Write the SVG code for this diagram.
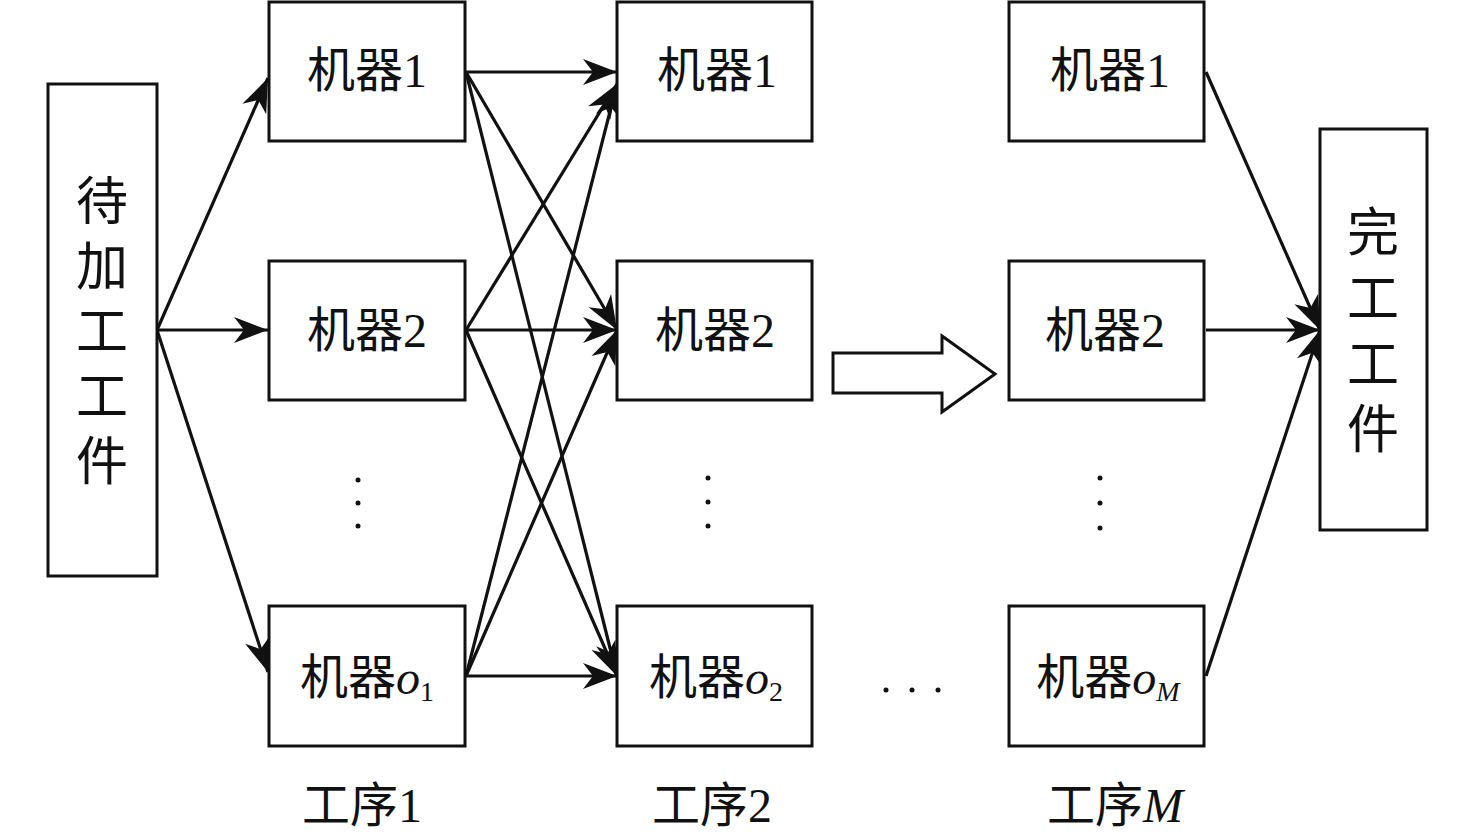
<svg xmlns="http://www.w3.org/2000/svg" width="1476" height="840" viewBox="0 0 1476 840">
<style>
.box{fill:#fff;stroke:#111;stroke-width:3}
.t{font-family:"Liberation Serif","Noto Sans CJK SC",serif;font-size:48px;fill:#111;text-anchor:middle}
.v{font-family:"Liberation Serif","Noto Sans CJK SC",serif;font-size:52px;fill:#111;text-anchor:middle}
.c{stroke:#111;stroke-width:3.2;fill:none;marker-end:url(#ah)}
.dot{fill:#111}
</style>
<defs>
<marker id="ah" viewBox="-36 -15 38 30" refX="0" refY="0" markerWidth="38" markerHeight="30" markerUnits="userSpaceOnUse" orient="auto">
<path d="M0,0 L-34,-13 L-24,0 L-34,13 Z" fill="#111"/>
</marker>
</defs>
<rect width="1476" height="840" fill="#fff"/>
<g id="connectors">
<line class="c" x1="157" y1="330" x2="268" y2="78"/>
<line class="c" x1="157" y1="330" x2="268" y2="330"/>
<line class="c" x1="157" y1="330" x2="268" y2="672"/>
<line class="c" x1="466" y1="72" x2="617" y2="72"/>
<line class="c" x1="466" y1="72" x2="617" y2="330"/>
<line class="c" x1="466" y1="72" x2="617" y2="676"/>
<line class="c" x1="466" y1="330" x2="617" y2="84"/>
<line class="c" x1="466" y1="330" x2="617" y2="330"/>
<line class="c" x1="466" y1="330" x2="617" y2="676"/>
<line class="c" x1="466" y1="676" x2="617" y2="84"/>
<line class="c" x1="466" y1="676" x2="617" y2="330"/>
<line class="c" x1="466" y1="676" x2="617" y2="676"/>
<line class="c" x1="1206" y1="72" x2="1320" y2="330"/>
<line class="c" x1="1206" y1="330" x2="1320" y2="330"/>
<line class="c" x1="1206" y1="676" x2="1320" y2="330"/>
<path d="M833,353 L942,353 L942,336 L995,374 L942,412 L942,393 L833,393 Z" fill="#fff" stroke="#111" stroke-width="3" stroke-linejoin="miter"/>
</g>
<g id="start">
<rect class="box" x="48" y="84" width="109" height="492"/>
<text class="v" x="102" y="220">待</text>
<text class="v" x="102" y="285">加</text>
<text class="v" x="102" y="350">工</text>
<text class="v" x="102" y="415">工</text>
<text class="v" x="102" y="480">件</text>
</g>
<g id="s1m1"><rect class="box" x="269" y="2" width="196" height="139"/><text class="t" x="367" y="87">机器1</text></g>
<g id="s1m2"><rect class="box" x="269" y="261" width="196" height="139"/><text class="t" x="367" y="347">机器2</text></g>
<g id="s1mo"><rect class="box" x="269" y="606" width="196" height="140"/><text class="t" x="367" y="694">机器<tspan font-style="italic">o</tspan><tspan font-size="28" dy="7">1</tspan></text></g>
<g id="s2m1"><rect class="box" x="617" y="2" width="195" height="139"/><text class="t" x="717" y="87">机器1</text></g>
<g id="s2m2"><rect class="box" x="617" y="261" width="195" height="139"/><text class="t" x="715" y="347">机器2</text></g>
<g id="s2mo"><rect class="box" x="617" y="606" width="195" height="140"/><text class="t" x="716" y="694">机器<tspan font-style="italic">o</tspan><tspan font-size="28" dy="7">2</tspan></text></g>
<g id="sMm1"><rect class="box" x="1009" y="2" width="195" height="139"/><text class="t" x="1110" y="87">机器1</text></g>
<g id="sMm2"><rect class="box" x="1009" y="261" width="195" height="139"/><text class="t" x="1105" y="347">机器2</text></g>
<g id="sMmo"><rect class="box" x="1009" y="606" width="195" height="140"/><text class="t" x="1108" y="694">机器<tspan font-style="italic">o</tspan><tspan font-size="28" font-style="italic" dy="7">M</tspan></text></g>
<g id="end">
<rect class="box" x="1320" y="129" width="107" height="401"/>
<text class="v" x="1373" y="251">完</text>
<text class="v" x="1373" y="317">工</text>
<text class="v" x="1373" y="383">工</text>
<text class="v" x="1373" y="448">件</text>
</g>
<g id="dots">
<circle class="dot" cx="358" cy="480" r="2.5"/><circle class="dot" cx="358" cy="503" r="2.5"/><circle class="dot" cx="358" cy="526" r="2.5"/>
<circle class="dot" cx="708" cy="478" r="2.5"/><circle class="dot" cx="708" cy="502" r="2.5"/><circle class="dot" cx="708" cy="526" r="2.5"/>
<circle class="dot" cx="1100" cy="478" r="2.5"/><circle class="dot" cx="1100" cy="503" r="2.5"/><circle class="dot" cx="1100" cy="528" r="2.5"/>
<circle class="dot" cx="886" cy="690" r="2.5"/><circle class="dot" cx="912" cy="690" r="2.5"/><circle class="dot" cx="938" cy="690" r="2.5"/>
</g>
<g id="labels">
<text class="t" x="362" y="822">工序1</text>
<text class="t" x="712" y="822">工序2</text>
<text class="t" x="1115" y="822">工序<tspan font-style="italic">M</tspan></text>
</g>
</svg>
